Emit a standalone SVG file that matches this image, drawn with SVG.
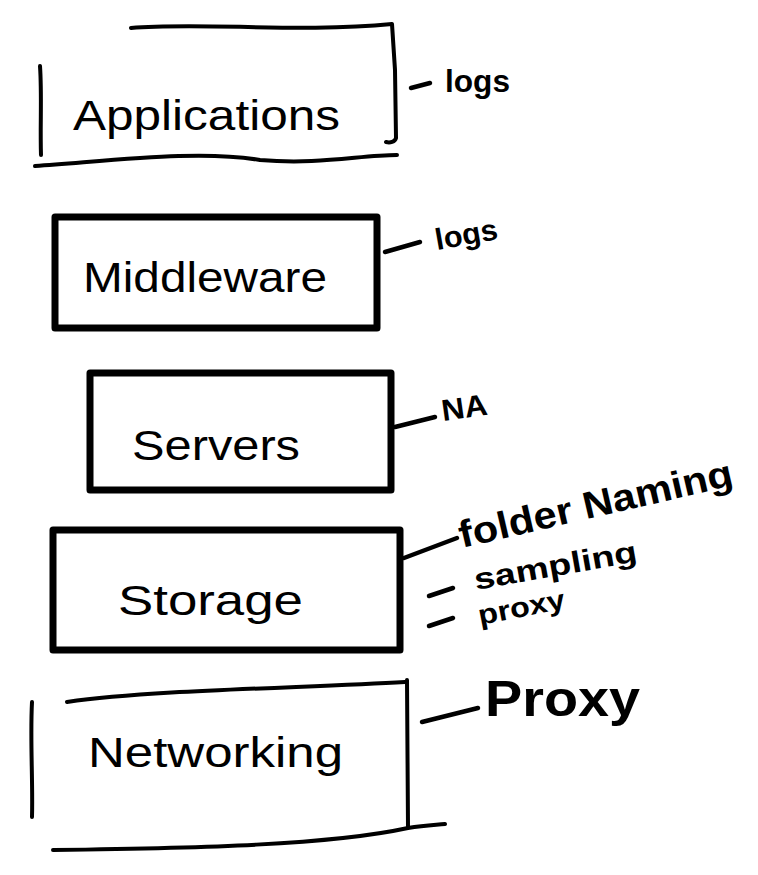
<svg xmlns="http://www.w3.org/2000/svg" width="758" height="875" viewBox="0 0 758 875">
<style>
.thin{fill:none;stroke:#000;stroke-width:4;stroke-linecap:round;stroke-linejoin:round}
.thick{fill:none;stroke:#000;stroke-width:7;stroke-linecap:round;stroke-linejoin:round}
.conn{fill:none;stroke:#000;stroke-width:4.5;stroke-linecap:round}
.lbl{font-family:"Liberation Sans","DejaVu Sans",sans-serif;font-size:42px;fill:#000}
.note{font-family:"Liberation Sans","DejaVu Sans",sans-serif;font-weight:bold;fill:#000}
</style>
<rect width="758" height="875" fill="#fff"/>
<g id="applications">
<path class="thin" d="M131,28 C200,22 300,33 392,24 L395,70 L396,138 C395,142 390,143 386,142"/>
<path class="thin" d="M40,66 C42,95 40,125 41,155"/>
<path class="thin" d="M35,166 C120,160 200,150 260,160 C320,165 360,155 397,155"/>
<text class="lbl" x="73" y="130" textLength="267" lengthAdjust="spacingAndGlyphs">Applications</text>
</g>
<g id="middleware">
<path class="thick" d="M55,217 L377,217 L377,328 L55,328 Z"/>
<text class="lbl" x="83" y="292" textLength="244" lengthAdjust="spacingAndGlyphs">Middleware</text>
</g>
<g id="servers">
<path class="thick" d="M90,373 L391,373 L391,490 L90,490 Z"/>
<text class="lbl" x="132" y="460" textLength="168" lengthAdjust="spacingAndGlyphs">Servers</text>
</g>
<g id="storage">
<path class="thick" d="M53,530 L400,530 L400,650 L53,650 Z"/>
<text class="lbl" x="118" y="615" textLength="185" lengthAdjust="spacingAndGlyphs">Storage</text>
</g>
<g id="networking">
<path class="thin" d="M32,702 C30,740 33,780 32,817"/>
<path class="thin" d="M67,702 C150,690 300,688 405,682"/>
<path class="thin" d="M407,680 L408,827"/>
<path class="thin" d="M53,850 C200,848 330,845 408,828 C425,825 435,825 445,824"/>
<text class="lbl" x="88" y="767" textLength="255" lengthAdjust="spacingAndGlyphs">Networking</text>
</g>
<g id="connectors">
<path class="conn" d="M411,88 L430,83"/>
<path class="conn" d="M385,252 L420,242"/>
<path class="conn" d="M395,427 L435,417"/>
<path class="conn" d="M404,558 L457,538"/>
<path class="conn" d="M429,596 L453,588"/>
<path class="conn" d="M429,626 L453,618"/>
<path class="conn" d="M422,722 L478,708"/>
</g>
<g id="annotations">
<text class="note" font-size="32" x="445" y="92" textLength="65" lengthAdjust="spacingAndGlyphs">logs</text>
<text class="note" font-size="30" x="437" y="250" textLength="63" lengthAdjust="spacingAndGlyphs" transform="rotate(-10 437 250)">logs</text>
<text class="note" font-size="30" x="443" y="421" textLength="46" lengthAdjust="spacingAndGlyphs" transform="rotate(-8 443 421)">NA</text>
<text class="note" font-size="38" x="462" y="548" textLength="280" lengthAdjust="spacingAndGlyphs" transform="rotate(-13 462 548)">folder Naming</text>
<text class="note" font-size="30" x="476" y="590" textLength="165" lengthAdjust="spacingAndGlyphs" transform="rotate(-10 476 590)">sampling</text>
<text class="note" font-size="28" x="480" y="625" textLength="88" lengthAdjust="spacingAndGlyphs" transform="rotate(-11 480 625)">proxy</text>
<text class="note" font-size="50" x="485" y="716" textLength="155" lengthAdjust="spacingAndGlyphs">Proxy</text>
</g>
</svg>
